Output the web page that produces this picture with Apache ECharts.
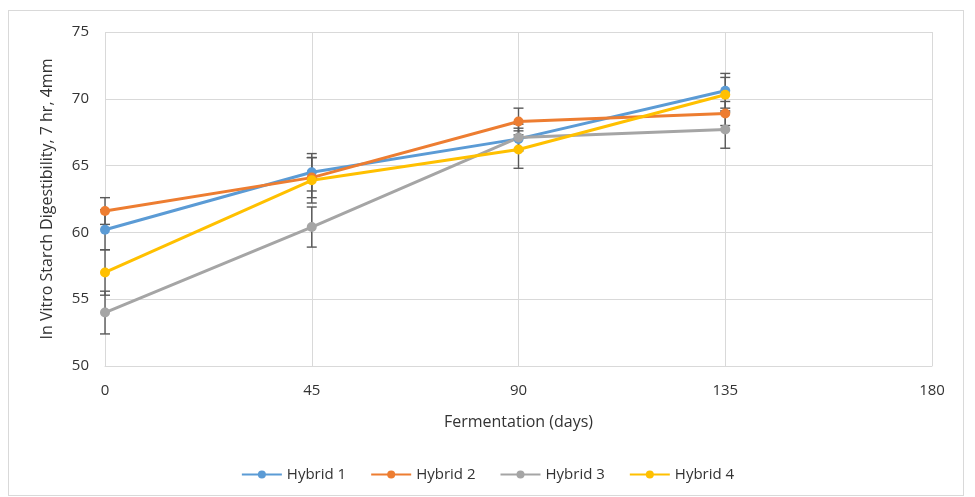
<!DOCTYPE html>
<html>
<head>
<meta charset="utf-8">
<script src="https://cdn.jsdelivr.net/npm/echarts@6/dist/echarts.min.js"></script>
<style>
html,body{margin:0;padding:0;background:#fff;}
#frame{position:absolute;left:8px;top:10px;width:954px;height:484px;border:1px solid #d9d9d9;}
#chart{width:975px;height:497px;}
</style>
</head>
<body>
<div id="frame"></div>
<div id="chart"></div>
<script>
var days = [0, 45, 90, 135];
var hybrid1 = [60.2, 64.5, 67.0, 70.6];
var hybrid2 = [61.6, 64.1, 68.3, 68.9];
var hybrid3 = [54.0, 60.4, 67.1, 67.7];
var hybrid4 = [57.0, 63.9, 66.2, 70.3];
var err1 = [1.5, 1.4, 0.8, 1.3];
var err2 = [1.0, 1.5, 1.0, 0.9];
var err3 = [1.6, 1.5, 1.0, 1.4];
var err4 = [1.7, 1.7, 1.4, 1.3];
var names = ['Hybrid 1', 'Hybrid 2', 'Hybrid 3', 'Hybrid 4'];
var colors = ['#5B9BD5', '#ED7D31', '#A5A5A5', '#FFC000'];

var values = [hybrid1, hybrid2, hybrid3, hybrid4];
var errs = [err1, err2, err3, err4];

var myChart = echarts.init(document.getElementById('chart'));

var series = [];
// error bars first, lines drawn on top
values.forEach(function (vals, k) {
    var data = days.map(function (d, i) {
        return [d, vals[i] - errs[k][i], vals[i] + errs[k][i]];
    });
    series.push({
        type: 'custom',
        name: names[k] + ' err',
        silent: true,
        z: 1,
        renderItem: function (params, api) {
            var lo = api.coord([api.value(0), api.value(1)]);
            var hi = api.coord([api.value(0), api.value(2)]);
            var w = 5;
            var st = {stroke: '#595959', lineWidth: 1.4};
            return {
                type: 'group',
                children: [
                    {type: 'line', shape: {x1: lo[0], y1: lo[1], x2: hi[0], y2: hi[1]}, style: st},
                    {type: 'line', shape: {x1: lo[0] - w, y1: lo[1], x2: lo[0] + w, y2: lo[1]}, style: st},
                    {type: 'line', shape: {x1: hi[0] - w, y1: hi[1], x2: hi[0] + w, y2: hi[1]}, style: st}
                ]
            };
        },
        encode: {x: 0, y: [1, 2]},
        data: data
    });
});
values.forEach(function (vals, k) {
    series.push({
        type: 'line',
        name: names[k],
        z: 3,
        data: days.map(function (d, i) { return [d, vals[i]]; }),
        symbol: 'circle',
        symbolSize: 10,
        lineStyle: {width: 3, color: colors[k]},
        itemStyle: {color: colors[k]}
    });
});

var txt = '#333333';
var option = {
    animation: false,
    grid: {left: 105, right: 43, top: 32, bottom: 131},
    xAxis: {
        type: 'value',
        min: 0, max: 180, interval: 45,
        name: 'Fermentation (days)',
        nameLocation: 'middle',
        nameGap: 48,
        nameTextStyle: {fontSize: 16, color: txt, fontFamily: 'Open Sans'},
        axisLine: {show: true, lineStyle: {color: '#d9d9d9'}},
        axisTick: {show: false},
        axisLabel: {fontSize: 15, color: txt, margin: 17, fontFamily: 'Open Sans'},
        splitLine: {show: true, lineStyle: {color: '#d9d9d9'}}
    },
    yAxis: {
        type: 'value',
        min: 50, max: 75, interval: 5,
        name: 'In Vitro Starch Digestibility, 7 hr, 4mm',
        nameLocation: 'middle',
        nameGap: 50,
        nameTextStyle: {fontSize: 16, color: txt, fontFamily: 'Open Sans'},
        axisLine: {show: false},
        axisTick: {show: false},
        axisLabel: {fontSize: 15, color: txt, margin: 16, fontFamily: 'Open Sans'},
        splitLine: {show: true, lineStyle: {color: '#d9d9d9'}}
    },
    legend: {
        data: names,
        bottom: 10,
        left: 'center',
        itemWidth: 40,
        itemHeight: 10,
        itemGap: 24,
        textStyle: {fontSize: 15, color: txt, fontFamily: 'Open Sans'}
    },
    series: series
};
myChart.setOption(option);
</script>
</body>
</html>
